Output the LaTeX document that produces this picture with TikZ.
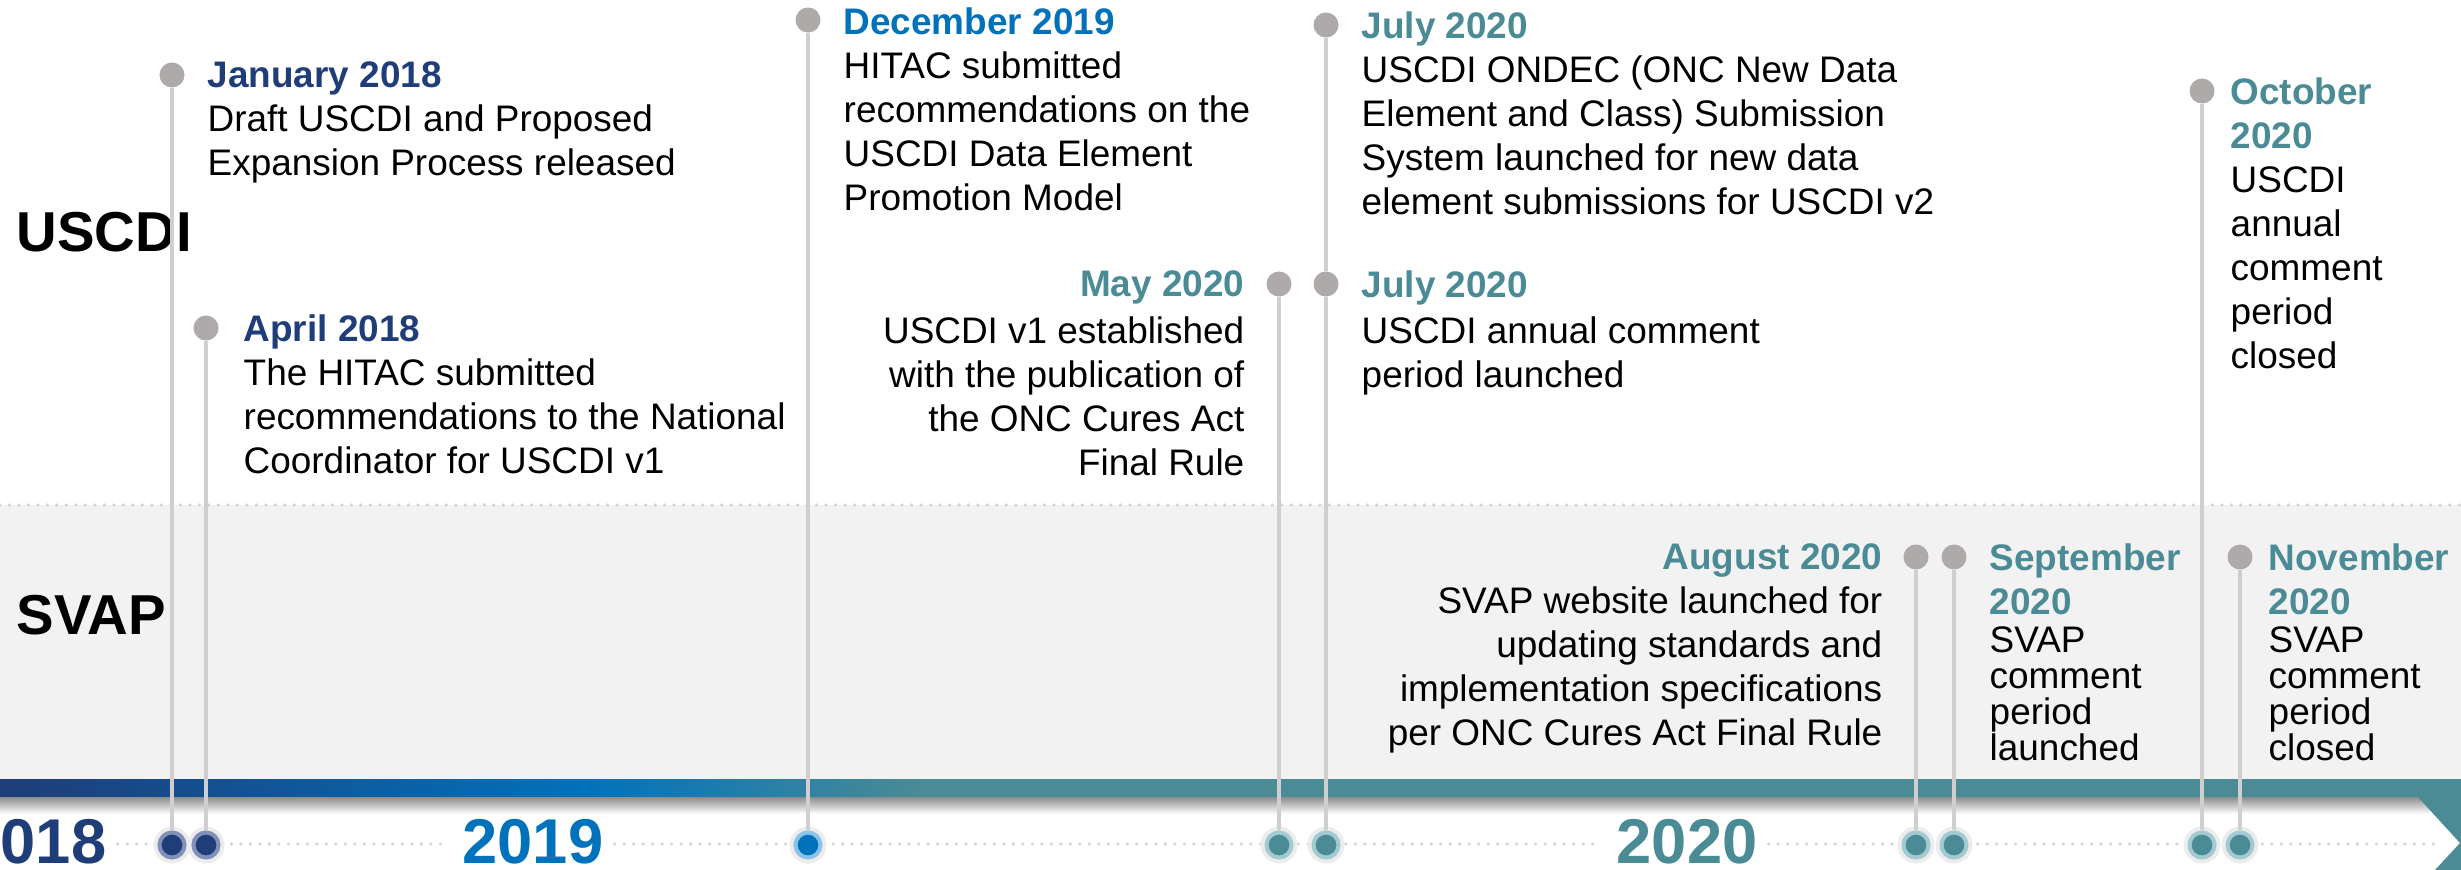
\documentclass[tikz,border=0pt]{standalone}
\usepackage{fontspec}
\setmainfont{Liberation Sans}
\definecolor{navy}{HTML}{1F3D78}
\definecolor{navyring}{HTML}{8090B6}
\definecolor{blue}{HTML}{0072BC}
\definecolor{bluering}{HTML}{8CC3E8}
\definecolor{teal}{HTML}{4A8B95}
\definecolor{tealring}{HTML}{A3CAD0}
\definecolor{glow}{HTML}{ECECEC}
\definecolor{dotgray}{HTML}{AEAAAA}
\definecolor{stemgray}{HTML}{D0CECE}
\definecolor{bandgray}{HTML}{F2F2F2}
\definecolor{dotted}{HTML}{D4D4D4}
\newcommand{\when}[2]{\textbf{\color{#1}#2}}
\tikzset{
  topdot/.style={circle,fill=dotgray,inner sep=0pt,minimum size=0.25cm},
  botdot/.style={circle,fill=#1,draw=#1ring,line width=1.15pt,inner sep=0pt,minimum size=0.25cm,preaction={draw=glow,line width=3.4pt}},
  stem/.style={draw=stemgray,line width=1.15pt},
  dotline/.style={draw=dotted,line width=1pt,line cap=round,dash pattern=on 0pt off 2.7pt,shorten <=3pt,shorten >=4pt},
  event/.style={font=\fontsize{10.5}{12.5}\selectfont,inner sep=0pt,align=left,anchor=north west},
  eventr/.style={event,align=right,anchor=north east},
  lane/.style={font=\fontsize{16}{19}\selectfont\bfseries,anchor=west,inner sep=0pt},
  year/.style={font=\fontsize{18}{21}\selectfont\bfseries,inner sep=0pt,text=#1}
}
\begin{document}
\begin{tikzpicture}[x=0.01cm,y=-0.01cm]
        \useasboundingbox (0,0) rectangle (2461,870);
        \clip (0,0) rectangle (2461,870);
        \fill[white] (0,0) rectangle (2461,870);
        \fill[bandgray] (0,505) rectangle (2461,779);
        \draw[dotline,shorten <=0pt,shorten >=0pt] (0,505) -- (2461,505);
        \shade[left color=navy,right color=blue] (0,779) rectangle (590,797);
        \shade[left color=blue,right color=teal] (589,779) rectangle (920,797);
        \fill[teal] (919,779) rectangle (2461,797);
        \shade[top color=black!45,bottom color=white] (0,797) rectangle (2430,814);
        \fill[teal] (2417,796) -- (2461,796) -- (2461,870) -- (2435,870) -- (2460,843) -- cycle;
        \node[lane] (lusc) at (16,232) {USCDI};
        \node[lane] (lsvap) at (16,615) {SVAP};
        \node[year=navy,anchor=east] (y2018) at (107,842) {2018};
        \node[year=blue] (y2019) at (533,842) {2019};
        \node[year=teal] (y2020) at (1687,842) {2020};
        \coordinate (yend) at (2456,844);
        \draw[dotline] ([yshift=-0.02cm]y2018.east) -- ([yshift=-0.02cm]y2019.west);
        \draw[dotline] ([yshift=-0.02cm]y2019.east) -- ([yshift=-0.02cm]y2020.west);
        \draw[dotline] ([yshift=-0.02cm]y2020.east) -- (yend);
        \foreach \Name/\X/\Y in {jan/172/75, apr/206/328, dec/808/20, may/1279/284, jula/1326/25, julb/1326/284, aug/1916/557, sep/1954/557, oct/2202/91, nov/2240/557}
        \node[topdot] (t\Name) at (\X,\Y) {};
        \foreach \Name/\X/\Col in {jan/172/navy, apr/206/navy, dec/808/blue, may/1279/teal, jul/1326/teal, aug/1916/teal, sep/1954/teal, oct/2202/teal, nov/2240/teal}
        \node[botdot=\Col] (b\Name) at (\X,845) {};
        \foreach \A/\B in {tjan/bjan, tapr/bapr, tdec/bdec, tmay/bmay, tjula/tjulb, tjulb/bjul, taug/baug, tsep/bsep, toct/boct, tnov/bnov}
        \draw[stem] (\A) -- (\B);
        \node[event] (ejan) at (207,61) {\when{navy}{January 2018}\\Draft USCDI and Proposed\\Expansion Process released};
        \node[event] (eapr) at (243,314) {\when{navy}{April 2018}\\The HITAC submitted\\recommendations to the National\\Coordinator for USCDI v1};
        \node[event] (edec) at (843,7) {\when{blue}{December 2019}\\HITAC submitted\\recommendations on the\\USCDI Data Element\\Promotion Model};
        \node[eventr] (emay) at (1245,270) {\when{teal}{May 2020}\\[1pt]USCDI v1 established\\with the publication of\\the ONC Cures Act\\Final Rule};
        \node[event] (ejula) at (1361,11) {\when{teal}{July 2020}\\USCDI ONDEC (ONC New Data\\Element and Class) Submission\\System launched for new data\\element submissions for USCDI v2};
        \node[event] (ejulb) at (1361,270) {\when{teal}{July 2020}\\[0.5pt]USCDI annual comment\\period launched};
        \node[eventr] (eaug) at (1883,543) {\when{teal}{August 2020}\\SVAP website launched for\\updating standards and\\implementation specifications\\per ONC Cures Act Final Rule};
        \node[event] (esep) at (1989,543) {\when{teal}{September}\\\when{teal}{2020}\\[-1.7pt]SVAP\\[-2.3pt]comment\\[-2.3pt]period\\[-2.3pt]launched};
        \node[event] (eoct) at (2230,77) {\when{teal}{October}\\\when{teal}{2020}\\USCDI\\annual\\comment\\period\\closed};
        \node[event] (enov) at (2268,543) {\when{teal}{November}\\\when{teal}{2020}\\[-1.7pt]SVAP\\[-2.3pt]comment\\[-2.3pt]period\\[-2.3pt]closed};
\end{tikzpicture}
\end{document}
